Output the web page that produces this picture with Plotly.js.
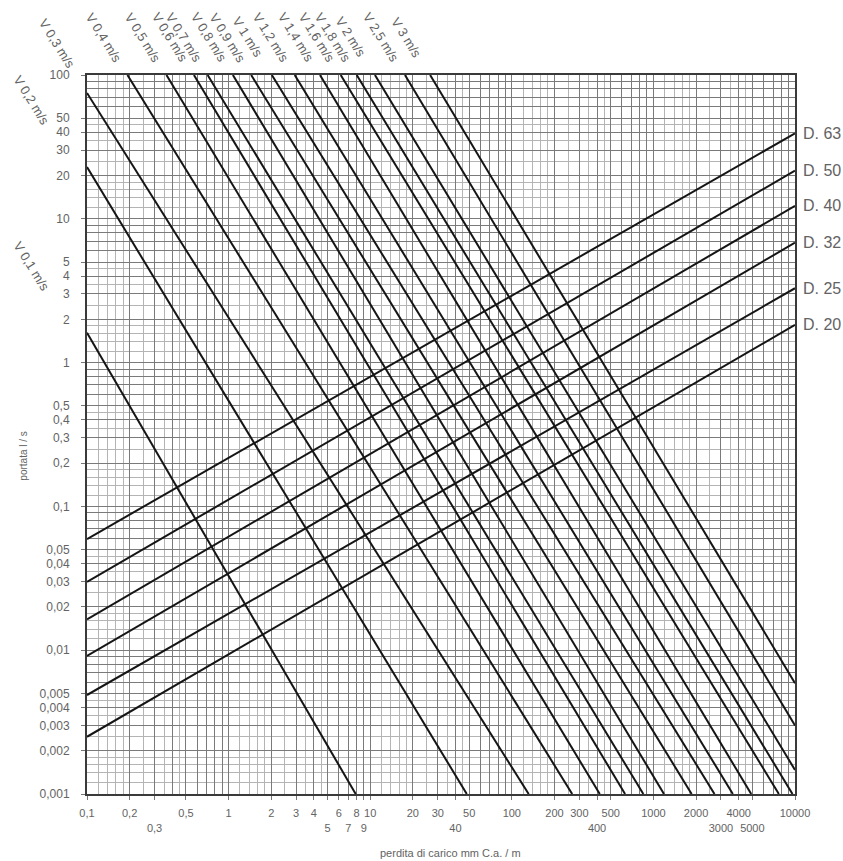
<!DOCTYPE html>
<html>
<head>
<meta charset="utf-8">
<script src="https://cdn.plot.ly/plotly-3.0.1.min.js"></script>
<style>html,body{margin:0;padding:0;background:#fff;}#chart{width:843px;height:861px;}</style>
</head>
<body>
<div id="chart"></div>
<script>
// ---- velocity lines (constant V) ----
const vLabels = ['V 0,1 m/s','V 0,2 m/s','V 0,3 m/s','V 0,4 m/s','V 0,5 m/s','V 0,6 m/s','V 0,7 m/s','V 0,8 m/s','V 0,9 m/s','V 1 m/s','V 1,2 m/s','V 1,4 m/s','V 1,6 m/s','V 1,8 m/s','V 2 m/s','V 2,5 m/s','V 3 m/s'];
const vStartX = [0.1, 0.1, 0.1, 0.193, 0.364, 0.569, 0.711, 1.072, 1.444, 2.02, 2.93, 4.42, 6.19, 8.03, 10.8, 17.6, 26.5];
const vStartY = [1.61, 22.9, 75, 100, 100, 100, 100, 100, 100, 100, 100, 100, 100, 100, 100, 100, 100];
const vEndX   = [7.9, 48.1, 131.6, 267, 418, 631, 849, 1188, 1862, 2700, 3639, 4907, 7691, 9600, 10000, 10000, 10000];
const vEndY   = [0.001, 0.001, 0.001, 0.001, 0.001, 0.001, 0.001, 0.001, 0.001, 0.001, 0.001, 0.001, 0.001, 0.001, 0.00147, 0.0030, 0.0059];

// ---- diameter lines ----
const dLabels = ['D. 63','D. 50','D. 40','D. 32','D. 25','D. 20'];
const dStartX = [0.1, 0.1, 0.1, 0.1, 0.1, 0.1];
const dStartY = [0.0593, 0.0299, 0.0164, 0.00912, 0.00488, 0.0025];
const dEndX   = [10000, 10000, 10000, 10000, 10000, 10000];
const dEndY   = [39.3, 21.6, 12.3, 6.82, 3.29, 1.83];

// ---- tick labels ----
const xRow1 = [0.1,0.2,0.5,1,2,3,4,6,8,10,20,30,50,100,200,300,500,1000,2000,4000,10000];
const xRow1Text = ['0,1','0,2','0,5','1','2','3','4','6','8','10','20','30','50','100','200','300','500','1000','2000','4000','10000'];
const xRow2 = [0.3,5,7,9,40,400,3000,5000];
const xRow2Text = ['0,3','5','7','9','40','400','3000','5000'];
const yTicks = [100,50,40,30,20,10,5,4,3,2,1,0.5,0.4,0.3,0.2,0.1,0.05,0.04,0.03,0.02,0.01,0.005,0.004,0.003,0.002,0.001];
const yTickText = ['100','50','40','30','20','10','5','4','3','2','1','0,5','0,4','0,3','0,2','0,1','0,05','0,04','0,03','0,02','0,01','0,005','0,004','0,003','0,002','0,001'];

const xTitle = 'perdita di carico mm C.a. / m';
const yTitle = 'portata l / s';

// grid mantissas (graph-paper rulings)
const lightMant = [1.2,1.4,1.6,1.8,2.5,3.5,4.5];
const midMant = [2,3,4,5,6,7,8,9];

function gridVals(d0, d1, mants){
  const out = [];
  for (let d = d0; d < d1; d++) for (const m of mants) out.push(m * Math.pow(10, d));
  return out;
}
function decades(d0, d1){ const o=[]; for(let d=d0; d<=d1; d++) o.push(Math.pow(10,d)); return o; }

const FONT = 'Liberation Sans, Arial, sans-serif';
const TXT = '#636363';

const traces = [];
for (let i = 0; i < vLabels.length; i++) {
  traces.push({x:[vStartX[i], vEndX[i]], y:[vStartY[i], vEndY[i]], type:'scatter', mode:'lines',
    line:{color:'#151515', width:2}, name:vLabels[i], hoverinfo:'name', cliponaxis:true});
}
for (let i = 0; i < dLabels.length; i++) {
  traces.push({x:[dStartX[i], dEndX[i]], y:[dStartY[i], dEndY[i]], type:'scatter', mode:'lines',
    line:{color:'#151515', width:2}, name:dLabels[i], hoverinfo:'name', cliponaxis:true});
}
// carrier traces for the grid axes
traces.push({x:[], y:[], xaxis:'x2', yaxis:'y2', type:'scatter', mode:'lines', showlegend:false, hoverinfo:'skip'});
traces.push({x:[], y:[], xaxis:'x3', yaxis:'y3', type:'scatter', mode:'lines', showlegend:false, hoverinfo:'skip'});

const xr = [-1, 4], yr = [-3, 2];
const gridAxis = (vals, color, w, range, overl, anchor) => ({
  type:'log', range:range, overlaying:overl, anchor:anchor, tickmode:'array', tickvals:vals,
  showticklabels:false, ticks:'', showgrid:true, gridcolor:color, gridwidth:w,
  showline:false, zeroline:false, fixedrange:true
});

const annotations = [];
// V labels (rotated, above the plot / left of it)
for (let i = 0; i < vLabels.length; i++) {
  if (vStartY[i] >= 100) {
    annotations.push({text:vLabels[i], x:Math.log10(vStartX[i]), xref:'x', y:1.052, yref:'paper',
      xshift:-24, showarrow:false, textangle:58, xanchor:'center', yanchor:'middle',
      font:{family:FONT, size:13, color:TXT}});
  }
}
const leftPos = [[-0.078, 0.734], [-0.078, 0.965], [-0.042, 1.0445]];
for (let i = 0; i < 3; i++) {
  annotations.push({text:vLabels[i], x:leftPos[i][0], y:leftPos[i][1], xref:'paper', yref:'paper',
    showarrow:false, textangle:58, xanchor:'center', yanchor:'middle', font:{family:FONT, size:13, color:TXT}});
}
// D labels on the right
for (let i = 0; i < dLabels.length; i++) {
  annotations.push({text:dLabels[i], x:Math.log10(dEndX[i]), y:Math.log10(dEndY[i]), xref:'x', yref:'y',
    xshift:6, xanchor:'left', yanchor:'middle', showarrow:false, font:{family:FONT, size:16, color:TXT}});
}
// axis titles
annotations.push({text:xTitle, x:0.514, y:-0.0820, xref:'paper', yref:'paper', showarrow:false,
  xanchor:'center', yanchor:'middle', font:{family:FONT, size:11, color:TXT}});
annotations.push({text:yTitle, x:-0.0910, y:0.470, xref:'paper', yref:'paper', showarrow:false, textangle:-90,
  xanchor:'center', yanchor:'middle', font:{family:FONT, size:10, color:TXT}});

const layout = {
  width:843, height:861,
  margin:{l:87, r:48, t:75, b:67, pad:0},
  paper_bgcolor:'#ffffff', plot_bgcolor:'#ffffff',
  showlegend:false,
  font:{family:FONT, size:11, color:TXT},
  xaxis:{type:'log', range:xr, tickmode:'array',
    tickvals:xRow1.concat(xRow2), ticktext:xRow1Text.concat(xRow2Text.map(t => ' <br>' + t)),
    tickangle:0, ticks:'outside', ticklen:4, tickcolor:'#777', ticklabelstandoff:4,
    tickfont:{family:FONT, size:11, color:TXT},
    showgrid:false, zeroline:false, showline:true, linecolor:'#3a3a3a', linewidth:2, mirror:true, fixedrange:true},
  yaxis:{type:'log', range:yr, tickmode:'array', tickvals:yTicks, ticktext:yTickText,
    ticks:'outside', ticklen:4, tickcolor:'#777', ticklabelstandoff:9,
    tickfont:{family:FONT, size:12, color:TXT},
    showgrid:false, zeroline:false, showline:true, linecolor:'#3a3a3a', linewidth:2, mirror:true, fixedrange:true},
  xaxis2: gridAxis(gridVals(-1, 4, lightMant), '#b4b4b4', 1, xr, 'x', 'y2'),
  yaxis2: gridAxis(gridVals(-3, 2, lightMant), '#b4b4b4', 1, yr, 'y', 'x2'),
  xaxis3: gridAxis(gridVals(-1, 4, midMant).concat(decades(-1,4)), '#7a7a7a', 1, xr, 'x', 'y3'),
  yaxis3: gridAxis(gridVals(-3, 2, midMant).concat(decades(-3,2)), '#7a7a7a', 1, yr, 'y', 'x3'),
  annotations:annotations
};

Plotly.newPlot('chart', traces, layout, {staticPlot:true, displayModeBar:false});
</script>
</body>
</html>
